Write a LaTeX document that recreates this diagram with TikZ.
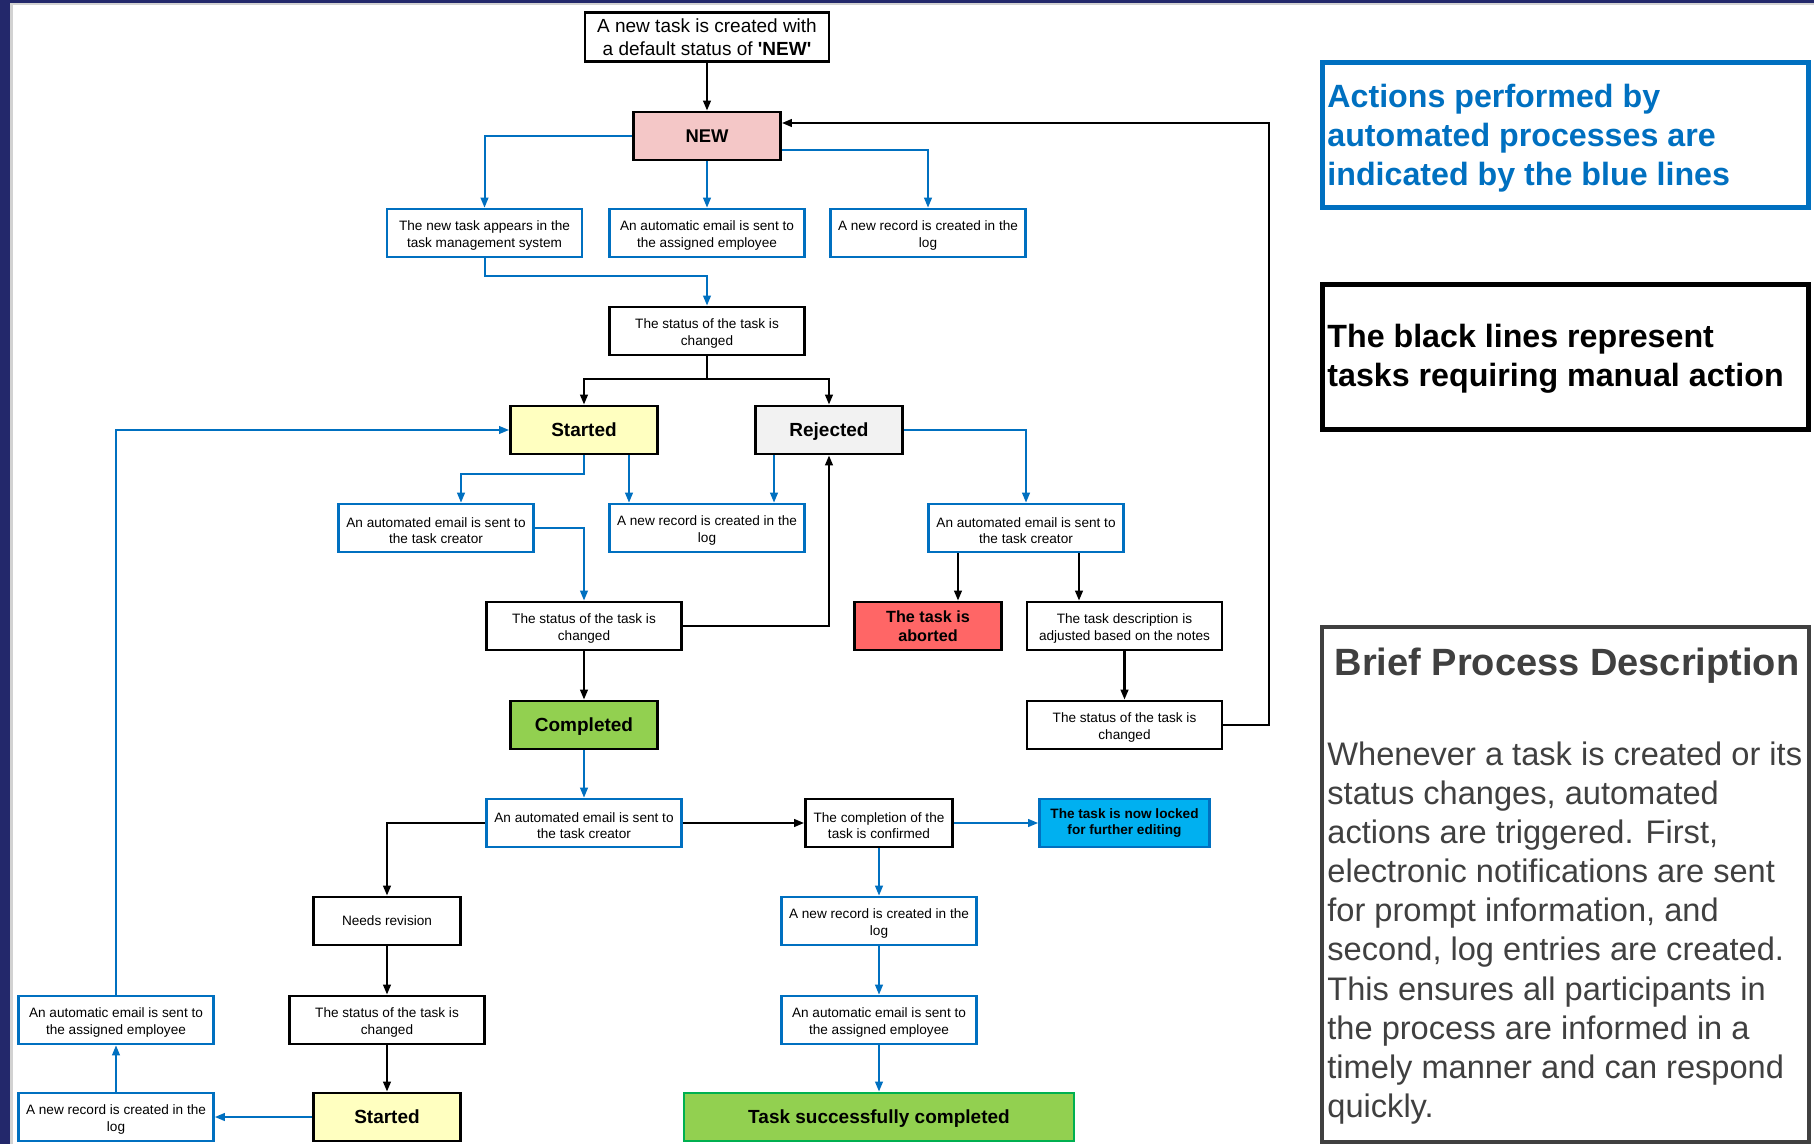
\documentclass[tikz,border=0pt]{standalone}
\usepackage{fontspec}
\setmainfont{Liberation Sans}
\usetikzlibrary{arrows.meta}
\definecolor{bluec}{HTML}{0070C0}
\definecolor{pinkc}{HTML}{F4C7C7}
\definecolor{yellowc}{HTML}{FFFFC0}
\definecolor{grayc}{HTML}{F2F2F2}
\definecolor{redc}{HTML}{FF6666}
\definecolor{greenc}{HTML}{92D050}
\definecolor{greenb}{HTML}{00B050}
\definecolor{cyanc}{HTML}{00B0F0}
\definecolor{navyc}{HTML}{23286B}
\definecolor{darkg}{HTML}{404040}
\newcommand{\tlift}{\rule{0pt}{7.4pt}}
\tikzset{
  box/.style={rectangle, align=center, inner sep=1pt, minimum height=24pt, fill=white,
    font=\fontsize{6.8}{8.1}\selectfont},
  blk/.style={box, draw=black, line width=1.4pt},
  blu/.style={box, draw=bluec, line width=1.3pt},
  wideb/.style={minimum width=97.5pt},
  narrowb/.style={minimum width=73.5pt},
  statusb/.style={blk, narrowb, text depth=0pt, font=\bfseries\fontsize{9.5}{11}\selectfont},
  bl/.style={draw=bluec, line width=1pt, -{Triangle[length=5pt,width=3.8pt]}},
  bk/.style={draw=black, line width=1.1pt, -{Triangle[length=5pt,width=3.8pt]}},
  legtext/.style={anchor=west, inner sep=0pt, align=left},
}
\begin{document}
\begin{tikzpicture}[x=0.5pt,y=-0.5pt]
\useasboundingbox (0,0) rectangle (1814,1144);
\fill[white] (0,0) rectangle (1814,1144);
\fill[gray!35] (10,3) rectangle (13,1144);
\fill[gray!35] (10,3) rectangle (1814,5);
\fill[navyc] (0,0) rectangle (10,1144);
\fill[navyc] (0,0) rectangle (1814,3);

% nodes
\node[blk, minimum width=122pt, minimum height=24.5pt, font=\fontsize{9.5}{11.6}\selectfont] (top) at (707,37) {A new task is created with\\a default status of \textbf{\textquotesingle NEW\textquotesingle}};
\node[statusb, fill=pinkc, font=\bfseries\fontsize{9.2}{11}\selectfont] (new) at (707,136) {NEW};

\node[blu, wideb] (b1) at (484.5,233) {\tlift The new task appears in the\\task management system};
\node[blu, wideb] (b2) at (707,233) {\tlift An automatic email is sent to\\the assigned employee};
\node[blu, wideb] (b3) at (928,233) {\tlift A new record is created in the\\log};

\node[blk, wideb] (st1) at (707,331) {\tlift The status of the task is\\changed};

\node[statusb, fill=yellowc] (started) at (584,430) {Started};
\node[statusb, fill=grayc] (rejected) at (829,430) {Rejected};

\node[blu, wideb] (c1) at (436,528) {\tlift An automated email is sent to\\the task creator};
\node[blu, wideb] (c2) at (707,528) {\tlift A new record is created in the\\log};
\node[blu, wideb] (c3) at (1026,528) {\tlift An automated email is sent to\\the task creator};

\node[blk, wideb] (d1) at (584,626) {\tlift The status of the task is\\changed};
\node[blk, narrowb, fill=redc, font=\bfseries\fontsize{8.1}{9.3}\selectfont] (d2) at (928,626) {The task is\\aborted};
\node[blk, wideb] (d3) at (1124.5,626) {\tlift The task description is\\adjusted based on the notes};

\node[statusb, fill=greenc] (completed) at (584,725) {Completed};
\node[blk, wideb] (e3) at (1124.5,725) {\tlift The status of the task is\\changed};

\node[blu, wideb] (f1) at (584,823) {\tlift An automated email is sent to\\the task creator};
\node[blk, narrowb] (f2) at (879,823) {\tlift The completion of the\\task is confirmed};
\node[blu, minimum width=85pt, fill=cyanc, font=\bfseries\fontsize{6.8}{8}\selectfont] (f3) at (1124.5,823) {The task is now locked\\for further editing};

\node[blk, narrowb] (g1) at (387,921) {Needs revision};
\node[blu, wideb] (g2) at (879,921) {\tlift A new record is created in the\\log};

\node[blu, wideb] (h0) at (116,1020) {\tlift An automatic email is sent to\\the assigned employee};
\node[blk, wideb] (h1) at (387,1020) {\tlift The status of the task is\\changed};
\node[blu, wideb] (h2) at (879,1020) {\tlift An automatic email is sent to\\the assigned employee};

\node[blu, wideb] (i0) at (116,1117) {\tlift A new record is created in the\\log};
\node[statusb, fill=yellowc] (i1) at (387,1117) {Started};
\node[blk, draw=greenb, minimum width=195pt, text depth=0pt, fill=greenc, font=\bfseries\fontsize{9.5}{11}\selectfont] (i2) at (879,1117) {Task successfully completed};

% legends
\node[draw=bluec, line width=2.5pt, minimum width=243pt, minimum height=72.5pt] (leg1) at (1565.5,135.5) {};
\node[legtext, text=bluec, font=\bfseries\fontsize{16.1}{19.5}\selectfont] (leg1t) at (1327,138.5)
  {Actions performed by\\automated processes are\\indicated by the blue lines};
\node[draw=black, line width=2.5pt, minimum width=243pt, minimum height=72.5pt] (leg2) at (1565.5,357) {};
\node[legtext, text=black, font=\bfseries\fontsize{16.1}{19.5}\selectfont] (leg2t) at (1327,358.5)
  {The black lines represent\\tasks requiring manual action};
\node[draw=darkg, line width=2pt, minimum width=243.5pt, minimum height=257.5pt] (leg3) at (1565.5,884.5) {};
\node[text=darkg, font=\bfseries\fontsize{19}{22}\selectfont, inner sep=0pt] (leg3t) at (1567,666) {Brief Process Description};
\node[legtext, text=darkg, font=\fontsize{16.3}{19.53}\selectfont] (leg3b) at (1327,933)
 {Whenever a task is created or its\\status changes, automated\\actions are triggered. First,\\electronic notifications are sent\\for prompt information, and\\second, log entries are created.\\This ensures all participants in\\the process are informed in a\\timely manner and can respond\\quickly.};

% connectors
\draw[bk] (top) -- (new);
\draw[bl] (new.west) -| (b1.north);
\draw[bl] (new) -- (b2);
\draw[bl] (new.east |- 0,150) -| (b3.north);
\draw[bl] (b1.south) -- (b1.south |- 0,276) -| (st1.north);
\draw[bk] (st1.south) -- (st1.south |- 0,379) -| (started.north);
\draw[bk] (st1.south |- 0,379) -| (rejected.north);
\draw[bl] (started.south) -- (started.south |- 0,474) -| (461,0 |- c1.north);
\draw[bl] (629,0 |- started.south) -- (629,0 |- c2.north);
\draw[bl] (774,0 |- rejected.south) -- (774,0 |- c2.north);
\draw[bl] (rejected.east) -| (c3.north);
\draw[bl] (c1.east) -| (d1.north);
\draw[bk] (d1.east) -| (rejected.south);
\draw[bk] (d1) -- (completed);
\draw[bk] (958,0 |- c3.south) -- (958,0 |- d2.north);
\draw[bk] (1079,0 |- c3.south) -- (1079,0 |- d3.north);
\draw[bk] (d3) -- (e3);
\draw[bk] (e3.east) -- (1269,0 |- e3.east) |- (new.east |- 0,123);
\draw[bl] (completed) -- (f1);
\draw[bk] (f1.east) -- (f2.west);
\draw[bk] (f1.west) -| (g1.north);
\draw[bl] (f2.east) -- (f3.west);
\draw[bl] (f2) -- (g2);
\draw[bl] (g2) -- (h2);
\draw[bl] (h2) -- (i2);
\draw[bk] (g1) -- (h1);
\draw[bk] (h1) -- (i1);
\draw[bl] (i1.west) -- (i0.east);
\draw[bl] (i0) -- (h0);
\draw[bl] (h0.north) |- (started.west);
\end{tikzpicture}
\end{document}
